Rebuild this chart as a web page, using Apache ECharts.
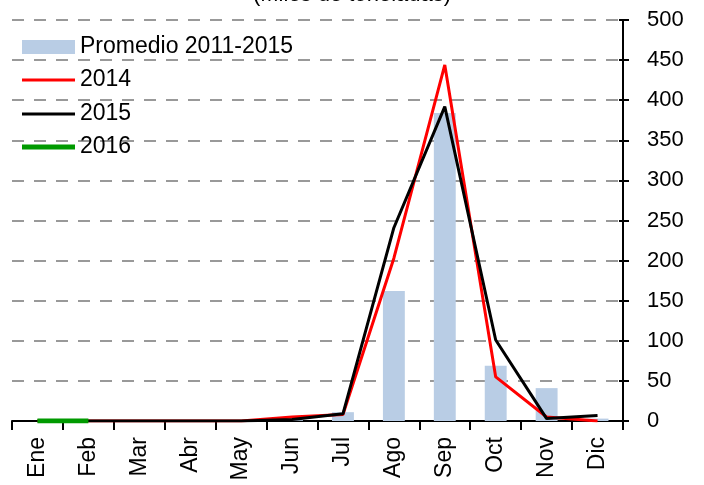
<!DOCTYPE html>
<html>
<head>
<meta charset="utf-8">
<script src="https://cdn.jsdelivr.net/npm/echarts@6/dist/echarts.min.js"></script>
<style>
  html, body { margin: 0; padding: 0; background: #fff; }
  #chart { width: 704px; height: 485px; }
</style>
</head>
<body>
<div id="chart"></div>
<script>
// Monthly volumes, thousands of tonnes
const months = ['Ene', 'Feb', 'Mar', 'Abr', 'May', 'Jun', 'Jul', 'Ago', 'Sep', 'Oct', 'Nov', 'Dic'];
const promedio2011_2015 = [0, 0, 0, 0, 0, 1, 11, 162, 384, 69, 41, 3];
const serie2014 = [0, 0, 0, 0, 0, 5, 8, 203, 444, 55, 5, 0];
const serie2015 = [0, 0, 0, 0, 0, 2, 9, 241, 392, 101, 3, 7];
const serie2016 = [0, 0];
const yTicks = { min: 0, max: 500, interval: 50 };

const FONT = 'Liberation Sans';
const FS = 22;
const chart = echarts.init(document.getElementById('chart'), null, { renderer: 'canvas' });

// one legend block per entry so each swatch gets its own height
function legendEntry(name, centerY, swatchH) {
  return {
    orient: 'vertical',
    left: 22,
    top: centerY - 13,
    padding: 0,
    itemWidth: 53,
    itemHeight: swatchH,
    icon: 'rect',
    textStyle: { fontFamily: FONT, fontSize: 23, lineHeight: 26, color: '#000' },
    data: [{ name: name }]
  };
}

chart.setOption({
  animation: false,
  backgroundColor: '#fff',
  title: {
    text: '(Miles de toneladas)',
    left: 'center',
    top: -21,
    textStyle: { fontFamily: FONT, fontSize: FS, fontWeight: 'normal', color: '#000' }
  },
  legend: [
    legendEntry('Promedio 2011-2015', 47, 14),
    legendEntry('2014', 80, 3),
    legendEntry('2015', 114, 3),
    legendEntry('2016', 147, 5)
  ],
  grid: { left: 12, right: 81, top: 20, bottom: 64, containLabel: false },
  xAxis: {
    type: 'category',
    data: months,
    boundaryGap: true,
    axisLine: { show: true, lineStyle: { color: '#000', width: 2 } },
    axisTick: { show: true, length: 9, lineStyle: { color: '#000', width: 2 } },
    axisLabel: {
      rotate: 90, margin: 16, fontFamily: FONT, fontSize: 23, color: '#000'
    },
    splitLine: { show: false }
  },
  yAxis: [
    {
      type: 'value',
      position: 'right',
      min: yTicks.min, max: yTicks.max, interval: yTicks.interval,
      axisLine: { show: true, lineStyle: { color: '#000', width: 2 } },
      axisTick: { show: true, length: 6, lineStyle: { color: '#000', width: 2 } },
      axisLabel: { margin: 24, fontFamily: FONT, fontSize: FS, color: '#000' },
      splitLine: { show: true, lineStyle: { color: '#999999', width: 2, type: [12, 10] } }
    },
    {
      type: 'value',
      position: 'right',
      min: yTicks.min, max: yTicks.max, interval: yTicks.interval,
      axisLine: { show: false },
      axisTick: { show: true, inside: true, length: 4, lineStyle: { color: '#000', width: 2 } },
      axisLabel: { show: false },
      splitLine: { show: false }
    }
  ],
  series: [
    {
      name: 'Promedio 2011-2015',
      type: 'bar',
      data: promedio2011_2015,
      barWidth: '43%',
      itemStyle: { color: '#B9CDE5' }
    },
    {
      name: '2014',
      type: 'line',
      data: serie2014,
      symbol: 'none',
      lineStyle: { color: '#FF0000', width: 3 },
      itemStyle: { color: '#FF0000' }
    },
    {
      name: '2015',
      type: 'line',
      data: serie2015,
      symbol: 'none',
      lineStyle: { color: '#000000', width: 3 },
      itemStyle: { color: '#000000' }
    },
    {
      name: '2016',
      type: 'line',
      data: serie2016,
      symbol: 'none',
      lineStyle: { color: '#009A00', width: 5 },
      itemStyle: { color: '#009A00' }
    }
  ]
});
</script>
</body>
</html>
